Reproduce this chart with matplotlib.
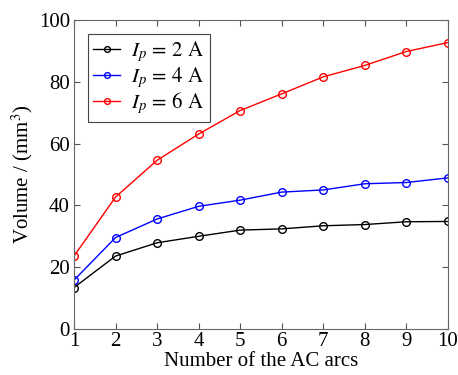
import matplotlib
matplotlib.use("Agg")
import matplotlib.pyplot as plt

plt.rcParams['font.family'] = ['Liberation Serif', 'DejaVu Serif']
plt.rcParams['mathtext.fontset'] = 'stix'

arcs = [1, 2, 3, 4, 5, 6, 7, 8, 9, 10]
vol_2A = [13.4, 23.6, 27.9, 30.0, 32.0, 32.4, 33.4, 33.8, 34.7, 34.8]
vol_4A = [15.8, 29.6, 35.6, 39.7, 41.7, 44.3, 45.0, 47.0, 47.4, 48.9]
vol_6A = [23.6, 42.7, 54.6, 63.1, 70.7, 76.1, 81.6, 85.3, 89.8, 92.7]
labels = [r'$I_p\,=\,2\ \mathrm{A}$', r'$I_p\,=\,4\ \mathrm{A}$', r'$I_p\,=\,6\ \mathrm{A}$']
colors = ['black', 'blue', 'red']

fig = plt.figure(figsize=(4.58, 3.75), dpi=100)
ax = fig.add_axes([0.1616, 0.1227, 0.8164, 0.824])
for y, lab, c in zip([vol_2A, vol_4A, vol_6A], labels, colors):
    ax.plot(arcs, y, color=c, marker='o', markersize=5.5, markerfacecolor='none',
            markeredgewidth=1, linewidth=1, label=lab)

ax.set_xlim(1, 10)
ax.set_ylim(0, 100)
ax.set_xticks(arcs)
ax.set_yticks([0, 20, 40, 60, 80, 100])
ax.tick_params(direction='in', top=True, right=True, labelsize=15, length=4, color='#555555')
ax.tick_params(axis='y', pad=3)
ax.tick_params(axis='x', pad=2)
for s in ax.spines.values():
    s.set_color('#666666')
ax.set_xlabel('Number of the AC arcs', fontsize=15, labelpad=1)
ax.set_ylabel(r'Volume / (mm$^3$)', fontsize=15, labelpad=3)
leg = ax.legend(loc='upper left', fontsize=15, fancybox=False, edgecolor='#444444',
                framealpha=1, handlelength=1.3, handletextpad=0.5, borderaxespad=0.65,
                labelspacing=0.02, borderpad=0.28, markerscale=0.75)
leg.get_frame().set_linewidth(0.8)
fig.savefig('out.png', dpi=100)
